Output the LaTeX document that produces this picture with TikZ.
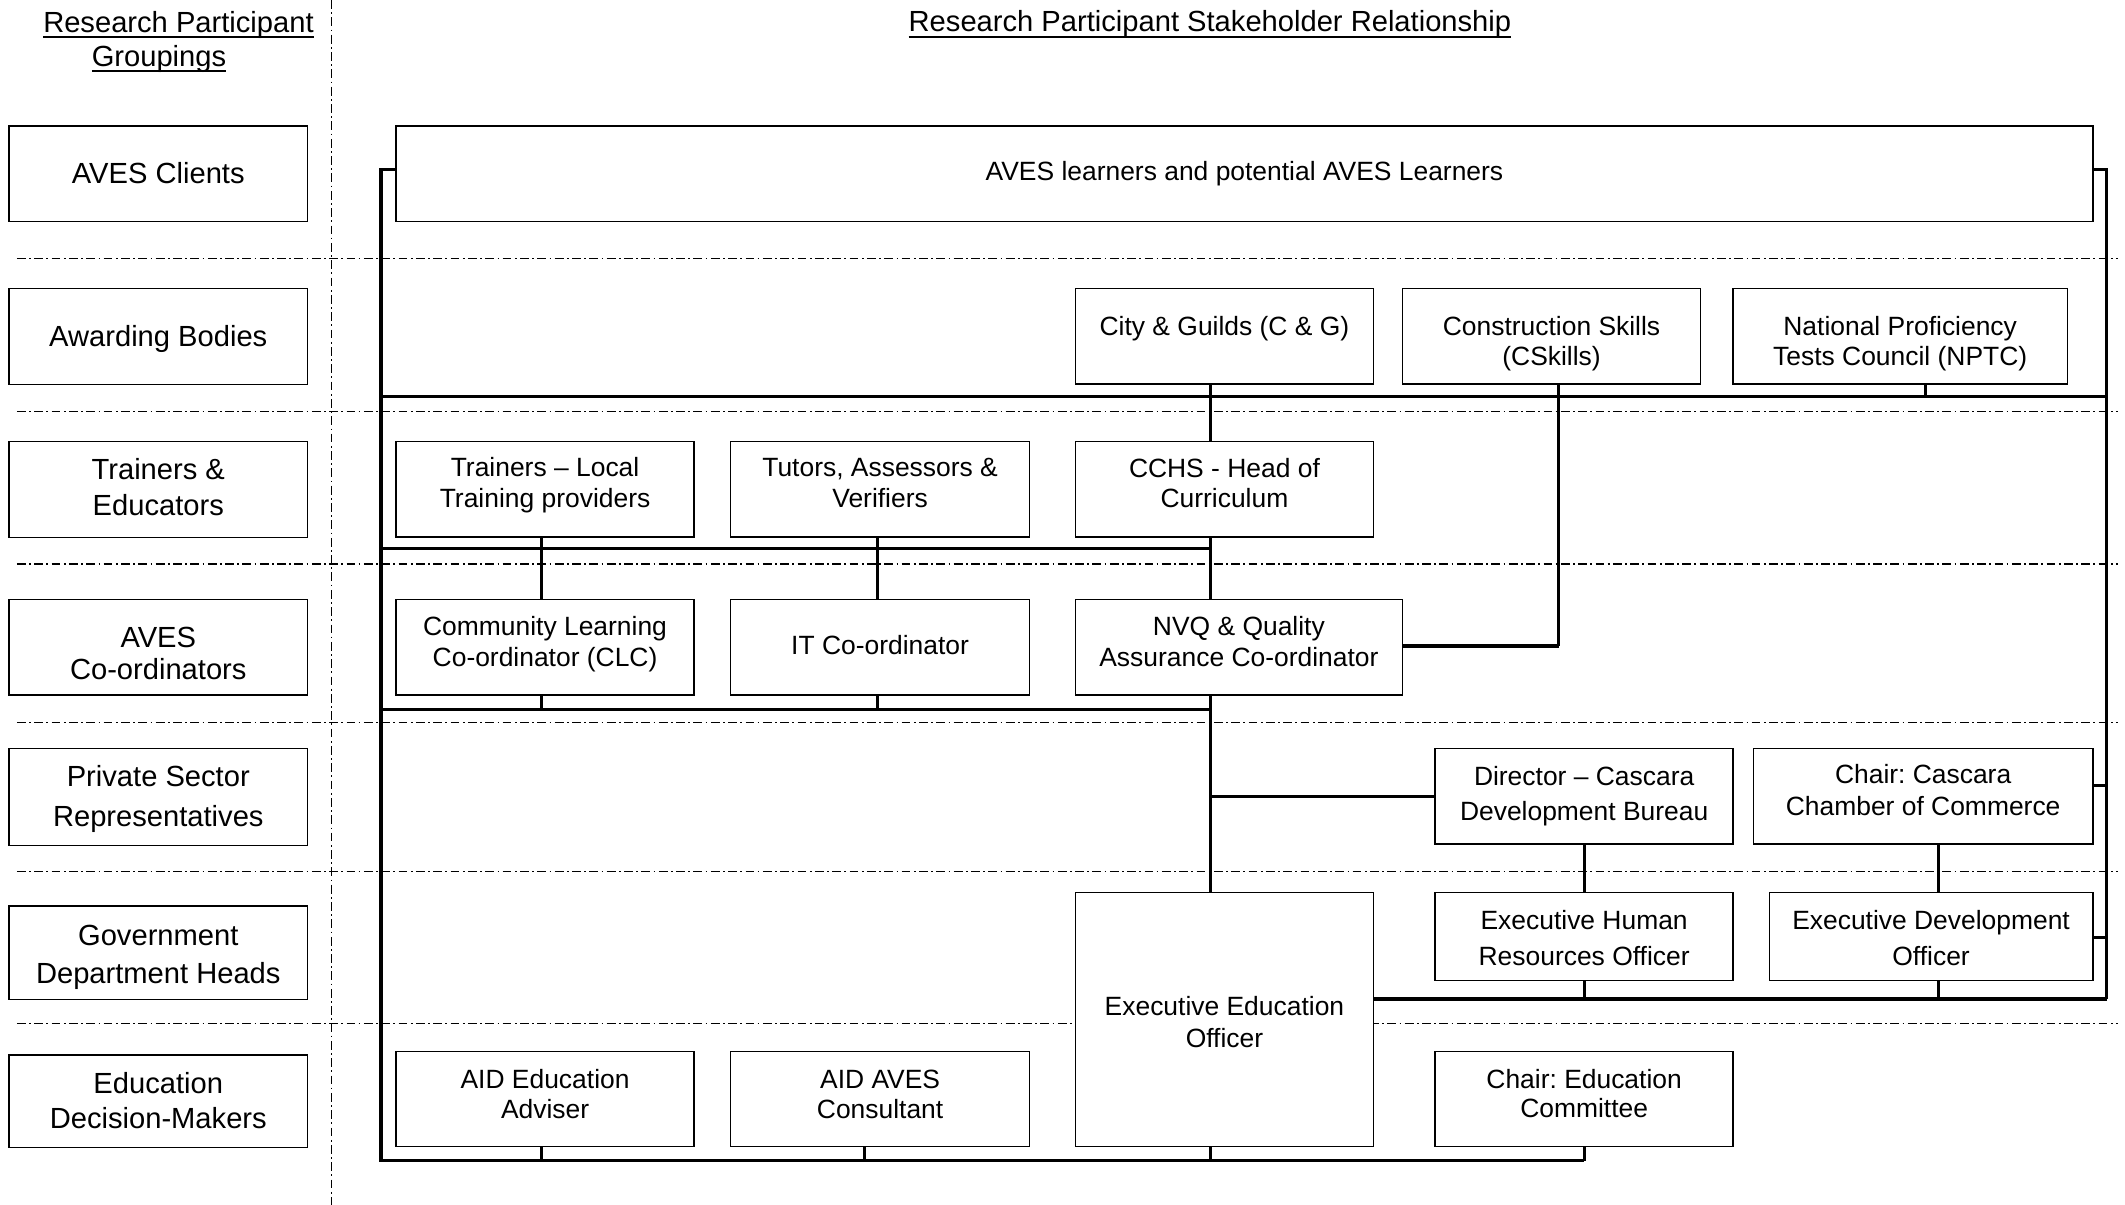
\documentclass[tikz,border=0pt]{standalone}
\usepackage{fontspec}
\setmainfont{Liberation Sans}
\usetikzlibrary{backgrounds}
\frenchspacing
\newcommand\tx[2][0bp]{\raisebox{#1}[\height][\depth]{\begin{tabular}{@{}c@{}}#2\end{tabular}}}
\begin{document}
\begin{tikzpicture}[x=1bp,y=-1bp,
  box/.style={draw, line width=1.1bp, fill=white, inner sep=0pt, outer sep=0pt, align=center},
  mf/.style={font=\fontsize{19.5bp}{#1bp}\selectfont\frenchspacing}, mf/.default=22.5,
  lf/.style={font=\fontsize{21.5bp}{#1bp}\selectfont}, lf/.default=25,
  lbox/.style={box, lf=#1, minimum width=220.4bp}, lbox/.default=25,
  mbox/.style={box, mf=#1}, mbox/.default=22.5,
  bus/.style={line width=2.5bp},
  drop/.style={line width=2.2bp},
  dd/.style={line width=1bp, dash pattern=on 6.5bp off 2.5bp on 1.3bp off 2.5bp},
  hdr/.style={inner sep=0pt, outer sep=0pt, font=\fontsize{21.5bp}{25bp}\selectfont},
  ul/.style={line width=1.4bp}]
\useasboundingbox (0,0) rectangle (1568,889);

% headers
\node[hdr, anchor=base] (h1) at (131.7,23.9) {Research Participant};
\node[hdr, anchor=base] (h2) at (117.3,49.2) {Groupings};
\node[hdr, anchor=base] (h3) at (892.8,23.4) {Research Participant Stakeholder Relationship};
\draw[ul] ([yshift=-3.4bp]h1.base west) -- ([yshift=-3.4bp]h1.base east);
\draw[ul] ([yshift=-3.4bp]h2.base west) -- ([yshift=-3.4bp]h2.base east);
\draw[ul] ([yshift=-3.8bp]h3.base west) -- ([yshift=-3.8bp]h3.base east);

% left column
\node[lbox, minimum height=70.6bp] (L1) at (116.8,128.3) {\tx[-2bp]{AVES Clients}};
\node[lbox, minimum height=70.8bp] (L2) at (116.8,248.2) {\tx[-2.3bp]{Awarding Bodies}};
\node[lbox=26.3, minimum height=70.6bp] (L3) at (116.8,361.2) {\tx[-0.6bp]{Trainers \&\\Educators}};
\node[lbox=24.2, minimum height=70.6bp] (L4) at (116.8,477.5) {\tx[-7.3bp]{AVES\\Co-ordinators}};
\node[lbox=29, minimum height=71.5bp] (L5) at (116.8,588.05) {\tx[-1.2bp]{Private Sector\\Representatives}};
\node[lbox=28.5, minimum height=68.9bp] (L6) at (116.8,702.95) {\tx[-3bp]{Government\\Department Heads}};
\node[lbox=25.5, minimum height=68.1bp] (L7) at (116.8,812.55) {\tx[-2.3bp]{Education\\Decision-Makers}};

% stakeholder boxes
\node[mbox, minimum width=1252.1bp, minimum height=70.6bp] (top) at (918.25,128.3) {\tx[-0.2bp]{AVES learners and potential AVES Learners}};
\node[mbox, minimum width=220bp, minimum height=70.6bp] (CG) at (903.5,248.1) {\tx[5.2bp]{City \& Guilds (C \& G)}};
\node[mbox, minimum width=220.1bp, minimum height=70.6bp] (CS) at (1144.85,248.1) {\tx[-6.2bp]{Construction Skills\\(CSkills)}};
\node[mbox, minimum width=246.8bp, minimum height=70.6bp] (NPTC) at (1402.1,248.1) {\tx[-6.2bp]{National Proficiency\\Tests Council (NPTC)}};
\node[mbox, minimum width=220bp, minimum height=70.4bp] (TR) at (402.2,361.1) {\tx[2.4bp]{Trainers -- Local\\Training providers}};
\node[mbox, minimum width=220.4bp, minimum height=70.4bp] (TU) at (649.4,361.1) {\tx[2.4bp]{Tutors, Assessors \&\\Verifiers}};
\node[mbox, minimum width=220bp, minimum height=70.4bp] (CCHS) at (903.5,361.1) {\tx[2.3bp]{CCHS - Head of\\Curriculum}};
\node[mbox, minimum width=220bp, minimum height=70.6bp] (CLC) at (402.2,477.5) {\tx[1.5bp]{Community Learning\\Co-ordinator (CLC)}};
\node[mbox, minimum width=220.4bp, minimum height=70.6bp] (IT) at (649.4,477.5) {\tx[-1bp]{IT Co-ordinator}};
\node[mbox, minimum width=241.3bp, minimum height=70.6bp] (NVQ) at (914.15,477.5) {\tx[1.5bp]{NVQ \& Quality\\Assurance Co-ordinator}};
\node[mbox=26, minimum width=219.8bp, minimum height=70.4bp] (DIR) at (1168.9,587.6) {\tx[0.4bp]{Director -- Cascara\\Development Bureau}};
\node[mbox=23.4, minimum width=250.5bp, minimum height=70.4bp] (CCC) at (1419.05,587.6) {\tx[2.4bp]{Chair: Cascara\\Chamber of Commerce}};
\node[mbox=23.4, minimum width=220bp, minimum height=187.4bp] (EEO) at (903.5,752.4) {\tx[-3.8bp]{Executive Education\\Officer}};
\node[mbox=26.3, minimum width=219.8bp, minimum height=64.9bp] (EHR) at (1168.9,691.15) {\tx[-2.9bp]{Executive Human\\Resources Officer}};
\node[mbox=26.3, minimum width=238.8bp, minimum height=64.9bp] (EDO) at (1424.9,691.15) {\tx[-2.9bp]{Executive Development\\Officer}};
\node[mbox=22, minimum width=220bp, minimum height=70.1bp] (AIDE) at (402.2,811.05) {\tx[1bp]{AID Education\\Adviser}};
\node[mbox=22, minimum width=220.4bp, minimum height=70.1bp] (AIDA) at (649.4,811.05) {\tx[1bp]{AID AVES\\Consultant}};
\node[mbox=21.7, minimum width=219.8bp, minimum height=70.1bp] (CEC) at (1168.9,811.05) {\tx[1.3bp]{Chair: Education\\Committee}};

% junction coordinates
\coordinate (LT) at (281,125);
\coordinate (LB) at (281,856.5);
\coordinate (RT) at (1554.5,125);
\coordinate (RB) at (1554.5,737);
\coordinate (A1) at (281,292.5);
\coordinate (A2) at (1554.5,292.5);
\coordinate (T1) at (281,404.6);
\coordinate (T2) at (893,404.6);
\coordinate (C1) at (281,523.4);
\coordinate (C2) at (893,523.4);
\coordinate (S1) at (1554.5,579.3);
\coordinate (S2) at (1554.5,691.6);
\coordinate (NS) at (1150,476.7);
\coordinate (vA) at (399.3,0);
\coordinate (vB) at (647.6,0);
\coordinate (vB2) at (638,0);
\coordinate (vC) at (893,0);
\coordinate (vD) at (1150,0);
\coordinate (vF) at (1430.4,0);
\coordinate (vG) at (1420.5,0);

\begin{pgfonlayer}{background}
\fill[white] (0,0) rectangle (1568,889);
\foreach \yy in {190.6,303.8,416.2,533,643.2,755}
  \draw[dd] (12.5,\yy) -- (1563,\yy);
\draw[dd] (244.4,0) -- (244.4,889);

% left trunk and bottom bus
\draw[bus] (top.west |- LT) -- (LT) -- (LB) -- (LB -| CEC.south);
\draw[drop] (CEC.south) -- (CEC.south |- LB);
\draw[drop] (AIDE.south -| vA) -- (vA |- LB);
\draw[drop] (AIDA.south -| vB2) -- (vB2 |- LB);
\draw[drop] (EEO.south -| vC) -- (vC |- LB);
% right trunk
\draw[drop] (top.east |- RT) -- (RT) -- (RB);
\draw[bus] (RB) -- (EEO.east |- RB);
\draw[drop] (CCC.east |- S1) -- (S1);
\draw[drop] (EDO.east |- S2) -- (S2);
% awarding bodies bus
\draw[bus] (A1) -- (A2);
\draw[drop] (CG.south -| vC) -- (CCHS.north -| vC);
\draw[drop] (CCHS.south -| vC) -- (NVQ.north -| vC);
\draw[drop] (NVQ.south -| vC) -- (EEO.north -| vC);
\draw[drop] (CS.south -| vD) -- (NS);
\draw[bus] (NS) -- (NVQ.east |- NS);
\draw[drop] (NPTC.south -| vG) -- (vG |- A1);
% trainers bus
\draw[bus] (T1) -- (T2);
\draw[drop] (TR.south -| vA) -- (CLC.north -| vA);
\draw[drop] (TU.south -| vB) -- (IT.north -| vB);
% co-ordinators bus
\draw[bus] (C1) -- (C2);
\draw[drop] (CLC.south -| vA) -- (vA |- C1);
\draw[drop] (IT.south -| vB) -- (vB |- C1);
% private sector / government
\draw[bus] (DIR.west) -- (DIR.west -| vC);
\draw[drop] (DIR.south) -- (EHR.north);
\draw[drop] (CCC.south -| vF) -- (EDO.north -| vF);
\draw[drop] (EHR.south) -- (EHR.south |- RB);
\draw[drop] (EDO.south -| vF) -- (vF |- RB);
\end{pgfonlayer}
\end{tikzpicture}
\end{document}
